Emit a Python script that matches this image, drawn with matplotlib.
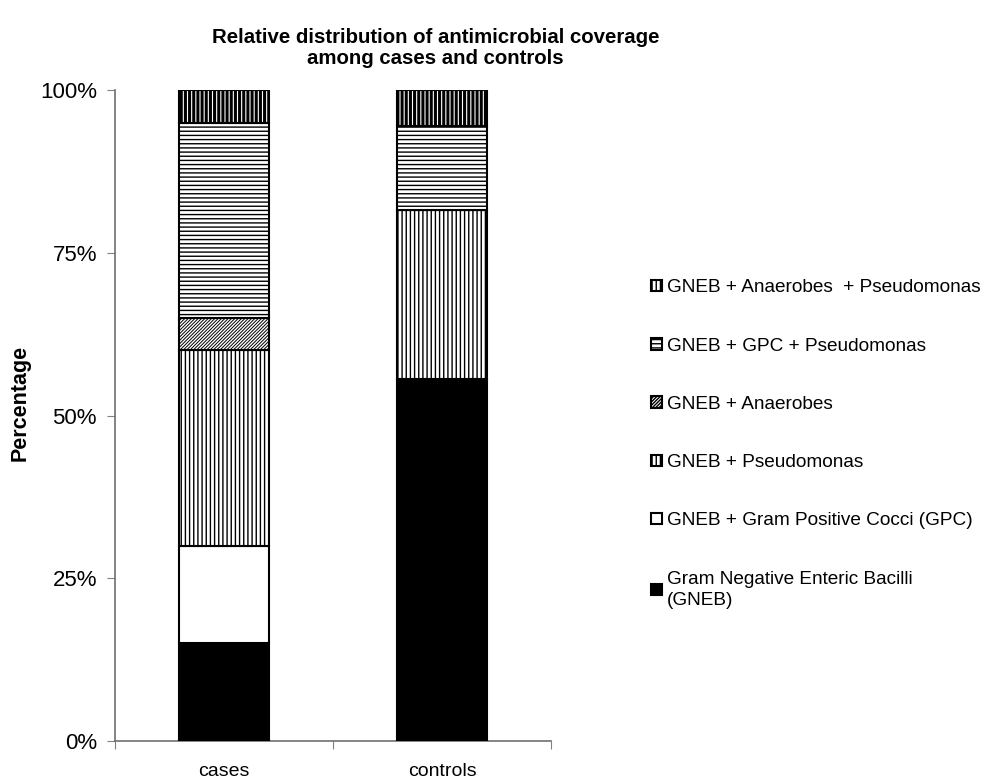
import matplotlib
matplotlib.use("Agg")
import matplotlib.pyplot as plt
import numpy as np

plt.rcParams['font.family'] = ['Liberation Sans', 'DejaVu Sans']

groups = ["cases", "controls"]
categories = [
    "Gram Negative Enteric Bacilli\n(GNEB)",
    "GNEB + Gram Positive Cocci (GPC)",
    "GNEB + Pseudomonas",
    "GNEB + Anaerobes",
    "GNEB + GPC + Pseudomonas",
    "GNEB + Anaerobes  + Pseudomonas",
]
# percentage of each coverage type within each group
cases_pct = [15.0, 15.0, 30.0, 5.0, 30.0, 5.0]
controls_pct = [55.6, 0.0, 25.9, 0.0, 13.0, 5.5]

face = ["black", "white", "white", "white", "white", "white"]
hatches = [None, None, "||||", "//////////", "----", "||||"]
hatch_lw = [1.0, 1.0, 1.0, 0.7, 1.0, 2.2]

fig = plt.figure(figsize=(9.88, 7.8), dpi=100)
ax = fig.add_axes([0.1164, 0.05, 0.4413, 0.8346])

x = np.arange(len(groups))
values = np.array([cases_pct, controls_pct])
bottom = np.zeros(len(groups))
handles = []
for i, cat in enumerate(categories):
    with plt.rc_context({'hatch.linewidth': hatch_lw[i]}):
        bars = ax.bar(x, values[:, i], bottom=bottom, width=0.41,
                      color=face[i], edgecolor="black", linewidth=1.5,
                      hatch=hatches[i], label=cat, zorder=3)
    handles.append(bars)
    bottom += values[:, i]

ax.set_xlim(-0.5, 1.5)
ax.set_ylim(0, 100)
ax.set_yticks([0, 25, 50, 75, 100])
ax.set_yticklabels(["0%", "25%", "50%", "75%", "100%"], fontsize=16)
ax.set_xticks([-0.5, 0.5, 1.5], minor=False)
ax.set_xticklabels([])
ax.set_xticks(x, minor=True)
ax.set_xticklabels(groups, minor=True, fontsize=14)
ax.tick_params(axis="x", which="minor", length=0, pad=16)
ax.tick_params(axis="x", which="major", length=6, color="#808080", direction="out")
ax.tick_params(axis="y", length=6, color="#808080", direction="out", pad=7)
for s in ["top", "right"]:
    ax.spines[s].set_visible(False)
for s in ["left", "bottom"]:
    ax.spines[s].set_color("#707070")
    ax.spines[s].set_linewidth(1.2)

ax.set_ylabel("Percentage", fontsize=15.5, fontweight="bold", labelpad=7)
ax.yaxis.label.set_y(0.52)
fig.suptitle("Relative distribution of antimicrobial coverage\namong cases and controls",
             fontsize=14.7, fontweight="bold", x=0.441, y=0.964, linespacing=1.12)

leg = fig.legend(handles[::-1], categories[::-1], loc="upper left",
                 bbox_to_anchor=(0.659, 0.642), frameon=False, fontsize=13.7,
                 handlelength=0.55, handleheight=0.55, handletextpad=0.3,
                 labelspacing=2.17, borderpad=0, borderaxespad=0)
for t in leg.get_texts():
    t.set_linespacing(1.3)

fig.savefig("out.png", dpi=100)
